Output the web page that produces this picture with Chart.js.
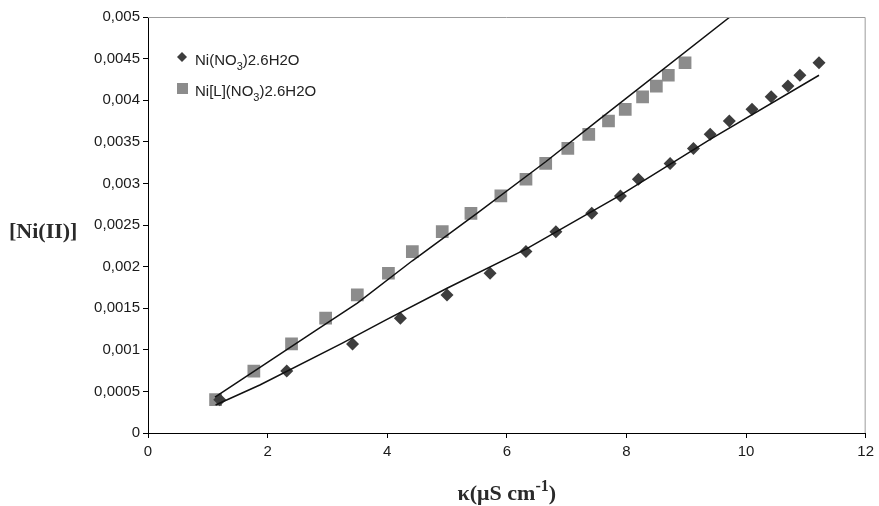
<!DOCTYPE html>
<html lang="en">
<head>
  <meta charset="UTF-8" />
  <title>[Ni(II)] vs conductivity</title>
  <script src="https://cdn.jsdelivr.net/npm/chart.js"></script>
  <style>
    html, body { margin: 0; padding: 0; background: #fff; }
    #wrap { width: 879px; height: 506px; position: relative; }
  </style>
</head>
<body>
  <div id="wrap"><canvas id="chart"></canvas></div>

  <script>
    // [Ni(II)] concentrations (same for both salts)
    const concentration = [0.0004, 0.000745, 0.00107, 0.00138, 0.00166, 0.00192, 0.00218, 0.00242, 0.00264, 0.00285,
                           0.00305, 0.00324, 0.00342, 0.00359, 0.00375, 0.00389, 0.00404, 0.00417, 0.0043, 0.00445];
    // conductivity readings, uS/cm
    const kappaNiNitrate  = [1.2, 2.32, 3.42, 4.22, 5.0, 5.72, 6.32, 6.82, 7.42, 7.9,
                             8.2, 8.73, 9.12, 9.4, 9.72, 10.1, 10.42, 10.7, 10.9, 11.22];
    const kappaNiLNitrate = [1.13, 1.77, 2.4, 2.97, 3.5, 4.02, 4.42, 4.92, 5.4, 5.9,
                             6.32, 6.65, 7.02, 7.37, 7.7, 7.98, 8.27, 8.5, 8.7, 8.98];

    // fitted curves as drawn in the figure
    const fitNiNitrateX  = [1.13, 1.87, 3.25, 3.98, 5.0, 6.32, 7.9, 9.4, 11.22];
    const fitNiNitrateY  = [0.000337, 0.000577, 0.00108, 0.00136, 0.00174, 0.00221, 0.00286, 0.00353, 0.0043];
    const fitNiLNitrateX = [1.12, 1.98, 2.82, 3.5, 4.42, 5.5, 6.65, 7.53, 9.73];
    const fitNiLNitrateY = [0.00043, 0.00084, 0.00124, 0.00156, 0.00207, 0.00264, 0.00326, 0.00376, 0.005];

    const seriesNames = ['Ni(NO', 'Ni[L](NO'];   // text before the subscript 3
    const xTicks = { min: 0, max: 12, step: 2 };
    const yTicks = { min: 0, max: 0.005, step: 0.0005 };

    const toPoints = (xs, ys) => xs.map((x, i) => ({ x: x, y: ys[i] }));

    const darkGrey = '#3d3d3d';
    const lightGrey = '#8c8c8c';

    // legend, axis titles and grey frame drawn by hand (subscripts/superscripts)
    const decorations = {
      id: 'decorations',
      afterDraw(chart) {
        const ctx = chart.ctx;
        const a = chart.chartArea;
        ctx.save();

        // top + right frame
        ctx.strokeStyle = '#9c9c9c';
        ctx.lineWidth = 1;
        ctx.beginPath();
        ctx.moveTo(a.left, a.top + 0.5);
        ctx.lineTo(a.right - 0.5, a.top + 0.5);
        ctx.lineTo(a.right - 0.5, a.bottom);
        ctx.stroke();

        // legend
        const big = '15px "Liberation Sans", Arial, sans-serif';
        const small = '11px "Liberation Sans", Arial, sans-serif';
        ctx.fillStyle = darkGrey;
        ctx.beginPath();
        ctx.moveTo(177, 57); ctx.lineTo(182, 52); ctx.lineTo(187, 57); ctx.lineTo(182, 62);
        ctx.closePath();
        ctx.fill();
        ctx.fillStyle = lightGrey;
        ctx.fillRect(177, 83, 11, 11);

        const rows = [65, 96];
        ctx.fillStyle = '#222';
        ctx.textBaseline = 'alphabetic';
        ctx.textAlign = 'left';
        rows.forEach((base, i) => {
          let x = 195;
          ctx.font = big;
          ctx.fillText(seriesNames[i], x, base);
          x += ctx.measureText(seriesNames[i]).width;
          ctx.font = small;
          ctx.fillText('3', x, base + 5);
          x += ctx.measureText('3').width;
          ctx.font = big;
          ctx.fillText(')2.6H2O', x, base);
        });

        // y title
        ctx.fillStyle = '#2a2a2a';
        ctx.font = 'bold 22px "Liberation Serif", "Times New Roman", serif';
        ctx.textBaseline = 'middle';
        ctx.fillText('[Ni(II)]', 9, 232);

        // x title with superscript
        const f1 = 'bold 22px "Liberation Serif", "Times New Roman", serif';
        const f2 = 'bold 16px "Liberation Serif", "Times New Roman", serif';
        ctx.textBaseline = 'alphabetic';
        ctx.font = f1;
        const w1 = ctx.measureText('κ(μS cm').width;
        const w3 = ctx.measureText(')').width;
        ctx.font = f2;
        const w2 = ctx.measureText('-1').width;
        let x = (a.left + a.right) / 2 - (w1 + w2 + w3) / 2;
        ctx.font = f1;
        ctx.fillText('κ(μS cm', x, 500);
        x += w1;
        ctx.font = f2;
        ctx.fillText('-1', x, 491);
        x += w2;
        ctx.font = f1;
        ctx.fillText(')', x, 500);

        ctx.restore();
      }
    };

    const fmt = v => {
      if (Math.abs(v) < 1e-12) return '0';
      return String(+v.toFixed(4)).replace('.', ',');
    };

    new Chart(document.getElementById('chart'), {
      type: 'scatter',
      data: {
        datasets: [
          {
            label: 'fit Ni(NO3)2.6H2O',
            type: 'line',
            data: toPoints(fitNiNitrateX, fitNiNitrateY),
            borderColor: '#111',
            borderWidth: 1.5,
            pointRadius: 0,
            tension: 0,
            order: 0
          },
          {
            label: 'fit Ni[L](NO3)2.6H2O',
            type: 'line',
            data: toPoints(fitNiLNitrateX, fitNiLNitrateY),
            borderColor: '#111',
            borderWidth: 1.5,
            pointRadius: 0,
            tension: 0,
            order: 0
          },
          {
            label: 'Ni(NO3)2.6H2O',
            data: toPoints(kappaNiNitrate, concentration),
            pointStyle: 'rectRot',
            pointRadius: 6.5,
            backgroundColor: darkGrey,
            borderWidth: 0,
            order: 1
          },
          {
            label: 'Ni[L](NO3)2.6H2O',
            data: toPoints(kappaNiLNitrate, concentration),
            pointStyle: 'rect',
            pointRadius: 9,
            backgroundColor: lightGrey,
            borderWidth: 0,
            order: 1
          }
        ]
      },
      options: {
        responsive: true,
        maintainAspectRatio: false,
        animation: false,
        layout: { padding: { top: 17, right: 11, left: 0, bottom: 0 } },
        plugins: {
          legend: { display: false },
          tooltip: { enabled: false }
        },
        scales: {
          x: {
            type: 'linear',
            min: xTicks.min,
            max: xTicks.max,
            afterFit: s => { s.height = 73; },
            border: { display: true, color: '#000', width: 1 },
            grid: { drawOnChartArea: false, drawTicks: true, tickLength: 5, color: '#000' },
            ticks: {
              stepSize: xTicks.step,
              padding: 5,
              color: '#1a1a1a',
              font: { family: '"Liberation Sans", Arial, sans-serif', size: 15 }
            }
          },
          y: {
            type: 'linear',
            min: yTicks.min,
            max: yTicks.max,
            afterFit: s => { s.width = 148; },
            border: { display: true, color: '#000', width: 1 },
            grid: { drawOnChartArea: false, drawTicks: true, tickLength: 5, color: '#000' },
            ticks: {
              stepSize: yTicks.step,
              padding: 3,
              color: '#1a1a1a',
              font: { family: '"Liberation Sans", Arial, sans-serif', size: 15 },
              callback: v => fmt(v)
            }
          }
        }
      },
      plugins: [decorations]
    });
  </script>
</body>
</html>
